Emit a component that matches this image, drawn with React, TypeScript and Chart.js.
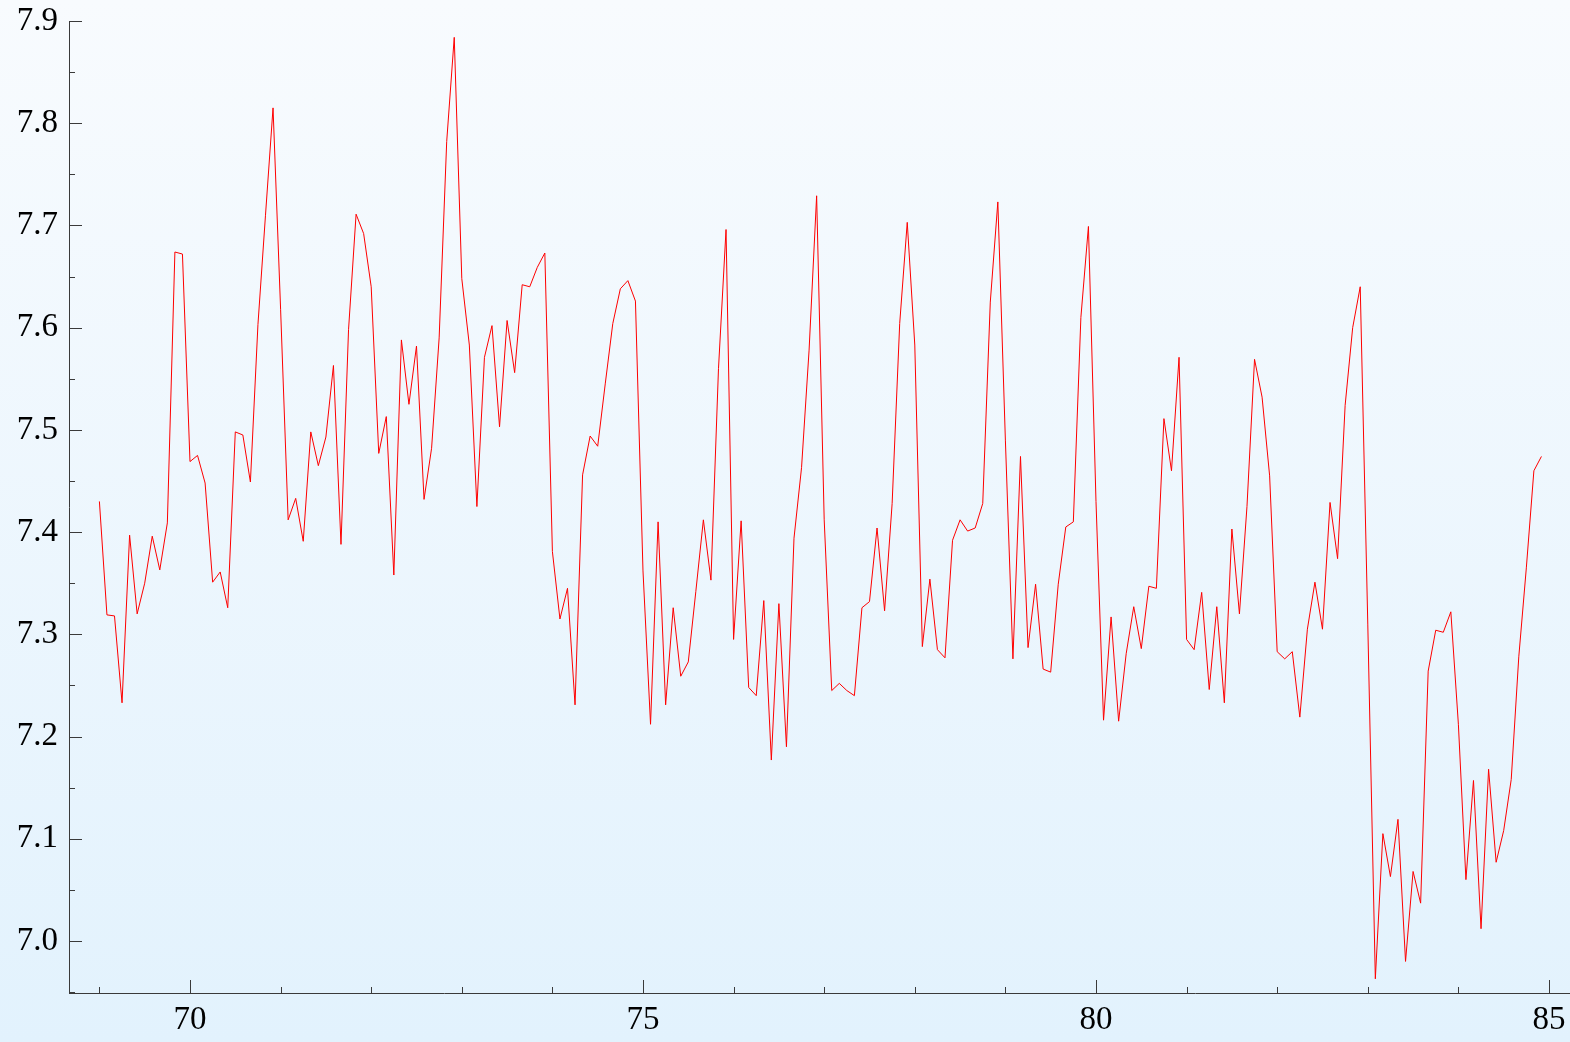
import React, { useEffect, useRef } from 'react';
import { Chart, registerables } from 'chart.js';

Chart.register(...registerables);

// Monthly series, one array per year (Jan..Dec)
const v1969 = [7.43, 7.319, 7.318, 7.233, 7.397, 7.32, 7.35, 7.396, 7.363, 7.409, 7.674, 7.672];
const v1970 = [7.469, 7.475, 7.448, 7.351, 7.361, 7.326, 7.498, 7.495, 7.449, 7.603, 7.71, 7.815];
const v1971 = [7.618, 7.412, 7.433, 7.391, 7.498, 7.465, 7.493, 7.563, 7.388, 7.598, 7.711, 7.692];
const v1972 = [7.64, 7.477, 7.513, 7.358, 7.588, 7.525, 7.582, 7.432, 7.482, 7.59, 7.782, 7.884];
const v1973 = [7.648, 7.583, 7.425, 7.571, 7.602, 7.503, 7.607, 7.556, 7.642, 7.64, 7.659, 7.673];
const v1974 = [7.381, 7.315, 7.345, 7.231, 7.456, 7.494, 7.484, 7.545, 7.604, 7.638, 7.646, 7.626];
const v1975 = [7.362, 7.212, 7.41, 7.231, 7.326, 7.259, 7.273, 7.342, 7.412, 7.353, 7.56, 7.696];
const v1976 = [7.295, 7.411, 7.248, 7.24, 7.333, 7.177, 7.33, 7.19, 7.394, 7.463, 7.578, 7.729];
const v1977 = [7.412, 7.245, 7.252, 7.245, 7.24, 7.326, 7.332, 7.404, 7.323, 7.428, 7.604, 7.703];
const v1978 = [7.583, 7.288, 7.354, 7.285, 7.277, 7.392, 7.412, 7.401, 7.404, 7.428, 7.625, 7.723];
const v1979 = [7.49, 7.276, 7.474, 7.287, 7.349, 7.266, 7.263, 7.349, 7.405, 7.41, 7.61, 7.699];
const v1980 = [7.43, 7.216, 7.317, 7.215, 7.281, 7.327, 7.286, 7.347, 7.345, 7.511, 7.46, 7.571];
const v1981 = [7.295, 7.285, 7.341, 7.246, 7.327, 7.233, 7.403, 7.32, 7.425, 7.569, 7.532, 7.455];
const v1982 = [7.283, 7.276, 7.283, 7.219, 7.305, 7.351, 7.305, 7.429, 7.374, 7.524, 7.6, 7.64];
const v1983 = [7.31, 6.963, 7.105, 7.063, 7.119, 6.98, 7.068, 7.037, 7.264, 7.304, 7.302, 7.322];
const v1984 = [7.212, 7.06, 7.157, 7.012, 7.168, 7.077, 7.108, 7.158, 7.278, 7.365, 7.46, 7.474];

const years = [69, 70, 71, 72, 73, 74, 75, 76, 77, 78, 79, 80, 81, 82, 83, 84];
const yearValues = [v1969, v1970, v1971, v1972, v1973, v1974, v1975, v1976, v1977, v1978, v1979, v1980, v1981, v1982, v1983, v1984];

const xLabelTicks = [70, 75, 80, 85];
const xMinorTicks = [69, 70, 71, 72, 73, 74, 75, 76, 77, 78, 79, 80, 81, 82, 83, 84, 85];
const yLabelTicks = [7.0, 7.1, 7.2, 7.3, 7.4, 7.5, 7.6, 7.7, 7.8, 7.9];
const yMinorTicks = [6.95, 7.05, 7.15, 7.25, 7.35, 7.45, 7.55, 7.65, 7.75, 7.85];

const X_MIN = 68.6645;
const X_MAX = 85.232;
const Y_MIN = 6.9491;
const Y_MAX = 7.9;

const AXIS_COLOR = '#3a3a3a';
const FONT = { family: '"Liberation Serif", "Times New Roman", serif', size: 33 };

export default function App() {
  const ref = useRef<HTMLCanvasElement | null>(null);

  useEffect(() => {
    document.body.style.margin = '0';
    const points: { x: number; y: number }[] = [];
    years.forEach((yr, yi) => {
      yearValues[yi].forEach((v, m) => points.push({ x: yr + m / 12, y: v }));
    });

    const bgPlugin = {
      id: 'bg',
      beforeDraw(chart: any) {
        const { ctx, width, height } = chart;
        const g = ctx.createLinearGradient(0, 0, 0, height);
        g.addColorStop(0, '#f8fbfe');
        g.addColorStop(1, '#e2f2fd');
        ctx.save();
        ctx.fillStyle = g;
        ctx.fillRect(0, 0, width, height);
        ctx.restore();
      },
    };

    const tickPlugin = {
      id: 'tickMarks',
      afterDraw(chart: any) {
        const { ctx, chartArea } = chart;
        const xs = chart.scales.x;
        const ys = chart.scales.y;
        ctx.save();
        ctx.strokeStyle = AXIS_COLOR;
        ctx.lineWidth = 1;
        ctx.beginPath();
        xMinorTicks.forEach((v) => {
          const px = Math.round(xs.getPixelForValue(v)) + 0.5;
          const len = xLabelTicks.includes(v) ? 13 : 6;
          ctx.moveTo(px, chartArea.bottom);
          ctx.lineTo(px, chartArea.bottom - len);
        });
        yLabelTicks.forEach((v) => {
          const py = Math.round(ys.getPixelForValue(v)) + 0.5;
          ctx.moveTo(chartArea.left, py);
          ctx.lineTo(chartArea.left + 13, py);
        });
        yMinorTicks.forEach((v) => {
          const py = Math.round(ys.getPixelForValue(v)) + 0.5;
          ctx.moveTo(chartArea.left, py);
          ctx.lineTo(chartArea.left + 6, py);
        });
        ctx.stroke();
        ctx.restore();
      },
    };

    const chart = new Chart(ref.current as HTMLCanvasElement, {
      type: 'line',
      data: {
        datasets: [
          {
            data: points,
            borderColor: '#ff0000',
            borderWidth: 1,
            pointRadius: 0,
            tension: 0,
            fill: false,
          },
        ],
      },
      options: {
        animation: false,
        responsive: false,
        devicePixelRatio: 1,
        layout: { padding: { top: 21, left: 0, right: 0, bottom: 0 } },
        plugins: { legend: { display: false }, tooltip: { enabled: false } },
        scales: {
          x: {
            type: 'linear',
            min: X_MIN,
            max: X_MAX,
            grid: { display: false, drawTicks: false },
            border: { display: true, color: AXIS_COLOR, width: 1 },
            afterBuildTicks: (scale: any) => {
              scale.ticks = xLabelTicks.map((v) => ({ value: v }));
            },
            afterFit: (scale: any) => {
              scale.height = 49;
              scale.paddingLeft = 0;
              scale.paddingRight = 0;
              scale.paddingTop = 0;
              scale.paddingBottom = 0;
            },
            ticks: {
              autoSkip: false,
              maxRotation: 0,
              padding: 8,
              color: '#000',
              font: FONT,
              callback: (v: any) => String(v),
            },
          },
          y: {
            type: 'linear',
            min: Y_MIN,
            max: Y_MAX,
            grid: { display: false, drawTicks: false },
            border: { display: true, color: AXIS_COLOR, width: 1 },
            afterBuildTicks: (scale: any) => {
              scale.ticks = yLabelTicks.map((v) => ({ value: v }));
            },
            afterFit: (scale: any) => {
              scale.width = 69;
              scale.paddingLeft = 0;
              scale.paddingRight = 0;
              scale.paddingTop = 0;
              scale.paddingBottom = 0;
            },
            ticks: {
              autoSkip: false,
              padding: 11,
              color: '#000',
              font: FONT,
              callback: (v: any) => Number(v).toFixed(1),
            },
          },
        },
      },
      plugins: [bgPlugin, tickPlugin],
    });
    return () => chart.destroy();
  }, []);

  return (
    <div style={{ width: 1570, height: 1042 }}>
      <canvas ref={ref} width={1570} height={1042} style={{ display: 'block' }} />
    </div>
  );
}
